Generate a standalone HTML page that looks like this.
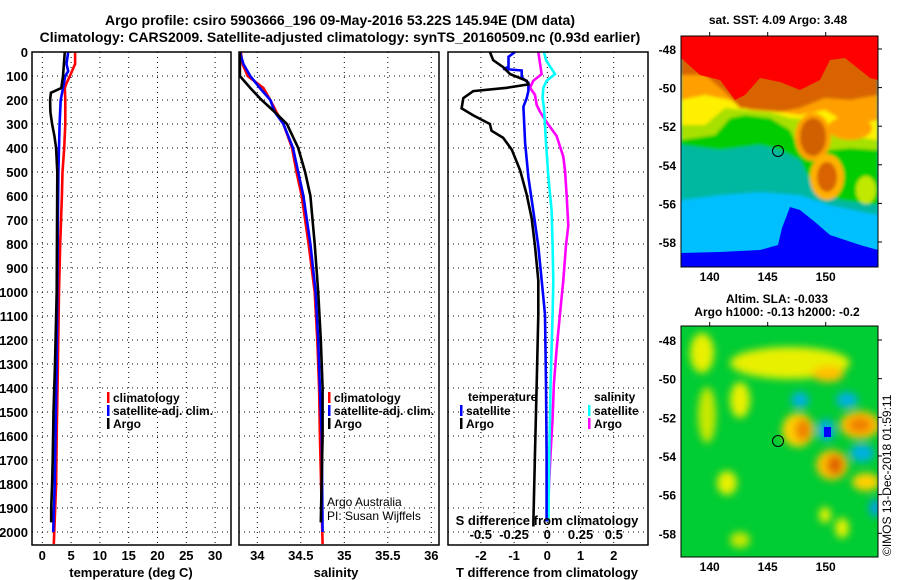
<!DOCTYPE html>
<html><head><meta charset="utf-8"><style>
html,body{margin:0;padding:0;background:#fff;}
svg{display:block;font-family:"Liberation Sans",sans-serif;}
text{font-weight:bold;font-size:13px;fill:#000;}
</style></head><body>
<svg id="c" width="900" height="580" viewBox="0 0 900 580" xmlns="http://www.w3.org/2000/svg">
<defs>
<filter id="bl" x="-30%" y="-30%" width="160%" height="160%"><feGaussianBlur stdDeviation="4"/></filter>
<filter id="bl2" x="-20%" y="-20%" width="140%" height="140%"><feGaussianBlur stdDeviation="1.5"/></filter>
<clipPath id="m1"><rect x="681" y="36" width="197" height="231"/></clipPath>
<clipPath id="m2"><rect x="681" y="326" width="197" height="231"/></clipPath>
</defs>
<text x="340" y="25" text-anchor="middle" style="font-size:14px">Argo profile: csiro 5903666_196 09-May-2016 53.22S 145.94E (DM data)</text>
<text x="340" y="42" text-anchor="middle" style="font-size:14px">Climatology: CARS2009. Satellite-adjusted climatology: synTS_20160509.nc (0.93d earlier)</text>

<g clip-path="url(#m1)">
<rect x="681" y="36" width="197" height="231" fill="#00BFFF"/>
<g filter="url(#bl2)">
<path d="M681,36H878V215L830,205L800,195L760,192L720,195L681,200Z" fill="#00B8A0"/>
<path d="M681,36H878V205L840,200L815,190L800,160L780,150L760,145L720,150L681,145Z" fill="#00CC00"/>
<path d="M681,36H878V150L850,148L830,150L800,150L790,130L770,118L745,115L730,118L715,135L681,140Z" fill="#A8E000"/>
<path d="M681,36H878V140L840,135L815,120L790,118L770,112L745,110L725,108L705,125L681,125Z" fill="#FFF000"/>
<path d="M681,36H878V120L850,125L825,110L800,115L780,112L750,110L730,100L705,95L681,100Z" fill="#FFA000"/>
<path d="M681,36H878V95L850,100L825,98L800,108L780,112L760,110L740,108L725,92L705,75L681,75Z" fill="#D86400"/>
<ellipse cx="813" cy="137" rx="18" ry="24" fill="#FFA000"/>
<ellipse cx="813" cy="137" rx="13" ry="19" fill="#D06000"/>
<ellipse cx="827" cy="177" rx="17" ry="23" fill="#FFB000"/>
<ellipse cx="827" cy="177" rx="10" ry="15" fill="#D86400"/>
<ellipse cx="850" cy="128" rx="22" ry="12" fill="#FFA000"/>
<ellipse cx="866" cy="190" rx="10" ry="14" fill="#C0E800"/>
</g>
<path d="M681,36H878V80L870,78L845,58L830,60L820,80L800,90L780,82L760,78L745,95L735,100L720,80L700,75L681,58Z" fill="#FF0000"/>
<path d="M681,267L681,253L720,252L760,250L778,245L782,228L790,207L800,210L815,222L830,235L860,245L878,250V267Z" fill="#0000FF"/>
<circle cx="778" cy="151" r="5.5" fill="none" stroke="#000" stroke-width="1"/>
</g>
<rect x="681" y="36" width="197" height="231" fill="none" stroke="#000"/>

<g clip-path="url(#m2)">
<rect x="681" y="326" width="197" height="231" fill="#00CC33"/>
<g filter="url(#bl)">
<ellipse cx="702" cy="353" rx="12" ry="20" fill="#E8F000"/>
<ellipse cx="790" cy="363" rx="60" ry="16" fill="#E8F000"/>
<ellipse cx="828" cy="374" rx="16" ry="8" fill="#FFC000"/>
<ellipse cx="740" cy="400" rx="10" ry="18" fill="#E8F000"/>
<ellipse cx="707" cy="415" rx="9" ry="28" fill="#C8E800"/>
<ellipse cx="800" cy="400" rx="9" ry="8" fill="#00B0E0"/>
<ellipse cx="847" cy="400" rx="11" ry="8" fill="#00B0E0"/>
<ellipse cx="798" cy="430" rx="16" ry="17" fill="#FFD000"/>
<ellipse cx="803" cy="430" rx="8" ry="11" fill="#F08000"/>
<ellipse cx="826" cy="430" rx="9" ry="11" fill="#00B0E0"/>
<ellipse cx="860" cy="425" rx="20" ry="14" fill="#FFC000"/>
<ellipse cx="860" cy="425" rx="12" ry="8" fill="#F08000"/>
<ellipse cx="832" cy="465" rx="16" ry="15" fill="#FFC000"/>
<ellipse cx="835" cy="465" rx="8" ry="10" fill="#E06000"/>
<ellipse cx="862" cy="453" rx="12" ry="9" fill="#00B0E0"/>
<ellipse cx="866" cy="482" rx="14" ry="9" fill="#FFD000"/>
<ellipse cx="727" cy="483" rx="10" ry="12" fill="#E8F000"/>
<ellipse cx="875" cy="508" rx="6" ry="9" fill="#00A0E0"/>
<ellipse cx="825" cy="515" rx="6" ry="8" fill="#E8F000"/>
<ellipse cx="842" cy="528" rx="7" ry="10" fill="#E8F000"/>
<ellipse cx="740" cy="540" rx="10" ry="8" fill="#C8E800"/>
</g>
<rect x="824" y="427" width="7" height="10" fill="#0000FF"/>
<circle cx="778" cy="441" r="5.5" fill="none" stroke="#000" stroke-width="1"/>
</g>
<rect x="681" y="326" width="197" height="231" fill="none" stroke="#000"/>

<text x="778" y="24" text-anchor="middle" style="font-size:12px">sat. SST: 4.09 Argo: 3.48</text>
<text x="777" y="303" text-anchor="middle" style="font-size:12px">Altim. SLA: -0.033</text>
<text x="777" y="316" text-anchor="middle" style="font-size:12px">Argo h1000: -0.13 h2000: -0.2</text>
<text transform="translate(891,556) rotate(-90)" style="font-size:12px;font-weight:normal">©IMOS 13-Dec-2018 01:59:11</text>
<g id="axes"></g>
</svg>
<script>
// ---- data ----
const tempDepthArgo = [0,100,150,170,200,250,300,350,400,500,1000,1300,1500,1700,1800,1900,1960];
const tempArgo = [3.9,3.6,3.3,1.5,1.35,1.4,1.7,2.1,2.4,2.6,2.5,2.2,1.95,1.8,1.7,1.55,1.55];
const tempDepthClim = [0,50,100,130,150,200,300,400,500,600,800,1000,1300,1600,1800,2050];
const tempClim = [5.7,5.7,4.8,4.2,3.9,4.0,4.0,3.8,3.5,3.4,3.1,2.9,2.7,2.5,2.4,2.0];
const tempDepthSat = [0,50,80,100,150,200,300,400,500,700,1000,1300,1600,1800,2000];
const tempSat = [4.5,4.2,4.5,4.0,3.6,3.2,3.0,2.9,2.8,2.7,2.6,2.5,2.3,2.15,1.9];

const salDepthArgo = [0,100,150,200,250,300,400,500,600,800,1000,1200,1400,1600,1960];
const salArgo = [33.80,33.80,33.92,34.05,34.20,34.34,34.47,34.55,34.61,34.66,34.70,34.73,34.75,34.75,34.73];
const salDepthClim = [0,50,100,150,200,250,300,400,500,600,800,1000,1200,1400,1600,2050];
const salClim = [33.81,33.83,33.89,34.07,34.15,34.22,34.30,34.40,34.45,34.51,34.59,34.66,34.69,34.71,34.72,34.75];
const salDepthSat = [0,50,100,150,200,250,300,400,500,600,800,1000,1200,1400,1600,2000];
const salSat = [33.80,33.84,33.92,34.03,34.15,34.20,34.30,34.41,34.47,34.53,34.61,34.67,34.70,34.72,34.74,34.75];

const dTDepthArgo = [0,34,63,92,120,135,149,163,192,235,264,300,328,357,407,493,594,694,809,952,1095,1382,1669,1956,1977];
const dTArgo = [-1.73,-1.63,-1.33,-1.12,-0.62,-0.57,-1.22,-2.23,-2.53,-2.58,-2.23,-1.73,-1.68,-1.33,-1.07,-0.82,-0.62,-0.47,-0.37,-0.27,-0.27,-0.32,-0.37,-0.42,-0.42];
const dTDepthSat = [0,20,63,70,77,106,128,163,192,228,378,522,665,809,952,1095,1382,1669,1956];
const dTSat = [-0.97,-1.17,-1.17,-1.33,-0.77,-0.77,-0.57,-0.57,-0.62,-0.72,-0.67,-0.57,-0.42,-0.27,-0.17,-0.07,-0.04,-0.02,-0.02];
const dSDepthArgo = [0,92,120,149,178,221,249,292,350,436,493,594,723,809,952,1095,1239,1382,1525,1669,1956];
const dSArgo = [-0.068,-0.043,-0.105,-0.13,-0.093,-0.08,-0.055,-0.005,0.07,0.12,0.133,0.145,0.158,0.14,0.12,0.095,0.07,0.05,0.04,0.025,0.0];
const dSDepthSat = [0,34,92,120,149,192,235,378,522,665,809,952,1095,1382,1669,1956];
const dSSat = [-0.025,-0.01,0.058,-0.005,-0.03,-0.035,-0.025,-0.01,0.008,0.033,0.04,0.045,0.04,0.025,0.015,0.008];

const depthTicks = [0,100,200,300,400,500,600,700,800,900,1000,1100,1200,1300,1400,1500,1600,1700,1800,1900,2000];
const tempTicks = [0,5,10,15,20,25,30];
const salTicks = [34,34.5,35,35.5,36];
const salTickLabels = ["34","34.5","35","35.5","36"];
const dTTicks = [-2,-1,0,1,2];
const dSTicks = [-0.5,-0.25,0,0.25,0.5];
const dSTickLabels = ["-0.5","-0.25","0","0.25","0.5"];
const latTicks = [-48,-50,-52,-54,-56,-58];
const lonTicks = [140,145,150];

// ---- scales ----
const yD = d => 52 + d*0.24;
const xT = t => 42.3 + t*5.76;
const xS = s => 257.3 + (s-34)*87;
const xdT = v => 547.3 + v*33.2;
const xdS = v => 547.3 + v*133;
const yLat1 = l => 49 + (-48 - l)*19.3;
const yLat2 = l => 340 + (-48 - l)*19.33;
const xLon = l => 709.7 + (l-140)*11.6;

const NS = "http://www.w3.org/2000/svg";
const root = document.getElementById('axes');
function mk(tag, attrs){const e=document.createElementNS(NS,tag);for(const k in attrs)e.setAttribute(k,attrs[k]);root.appendChild(e);return e;}
function txt(x,y,s,anchor,extra){const e=mk('text',{x:x,y:y,'text-anchor':anchor||'start'});if(extra)e.setAttribute('style',extra);e.textContent=s;return e;}

const panels=[{x0:32,x1:231},{x0:239,x1:439},{x0:448,x1:648}];
const yTop=52, yBot=545;
panels.forEach((p,i)=>{
  depthTicks.forEach(d=>{
    const g=mk('line',{x1:p.x0,x2:p.x1,y1:yD(d),y2:yD(d),stroke:'#000','stroke-width':1,'stroke-dasharray':'1,4'});
    
    
  });
});
tempTicks.forEach(t=>{const g=mk('line',{x1:xT(t),x2:xT(t),y1:yTop,y2:yBot,stroke:'#000','stroke-dasharray':'1,4'});


const l=txt(xT(t),560,String(t),'middle');

});
salTicks.forEach((s,i)=>{const g=mk('line',{x1:xS(s),x2:xS(s),y1:yTop,y2:yBot,stroke:'#000','stroke-dasharray':'1,4'});


const l=txt(xS(s),560,salTickLabels[i],'middle');

});
dTTicks.forEach(t=>{const g=mk('line',{x1:xdT(t),x2:xdT(t),y1:yTop,y2:yBot,stroke:'#000','stroke-dasharray':'1,4'});


const l=txt(xdT(t),560,String(t),'middle');

});
dSTicks.forEach((s,i)=>{const l=txt(xdS(s),539,dSTickLabels[i],'middle');

});
depthTicks.forEach(d=>{const l=txt(28,yD(d)+5,String(d),'end');

});

function line(xs,ds,xf,color,name){
  const pts=xs.map((v,i)=>xf(v).toFixed(1)+','+yD(ds[i]).toFixed(1)).join(' ');
  const e=mk('polyline',{points:pts,fill:'none',stroke:color,'stroke-width':2.6,'stroke-linejoin':'miter'});
  
  
}
line(tempClim,tempDepthClim,xT,'#FF0000','temp-climatology-line');
line(tempSat,tempDepthSat,xT,'#0000FF','temp-satellite-line');
line(tempArgo,tempDepthArgo,xT,'#000000','temp-argo-line');
line(salClim,salDepthClim,xS,'#FF0000','salinity-climatology-line');
line(salSat,salDepthSat,xS,'#0000FF','salinity-satellite-line');
line(salArgo,salDepthArgo,xS,'#000000','salinity-argo-line');
line(dSArgo,dSDepthArgo,xdS,'#FF00FF','sdiff-argo-line');
line(dSSat,dSDepthSat,xdS,'#00FFFF','sdiff-satellite-line');
line(dTSat,dTDepthSat,xdT,'#0000FF','tdiff-satellite-line');
line(dTArgo,dTDepthArgo,xdT,'#000000','tdiff-argo-line');

panels.forEach(p=>{const r=mk('rect',{x:p.x0,y:yTop,width:p.x1-p.x0,height:yBot-yTop,fill:'none',stroke:'#000','stroke-width':1.5});

});

let t;
t=txt(131,577,'temperature (deg C)','middle');


t=txt(336,577,'salinity','middle');


t=txt(547,577,'T difference from climatology','middle');


t=txt(547,525,'S difference from climatology','middle');



function leg(x,y,color,label,name){
  const b=mk('rect',{x:x,y:y-10,width:2.5,height:11,fill:color});
  
  
  const l=txt(x+6,y,label,'start','font-size:12px');
  
  
}
leg(107,402,'#FF0000','climatology','legend-temp-climatology');
leg(107,415,'#0000FF','satellite-adj. clim.','legend-temp-satellite');
leg(107,428,'#000000','Argo','legend-temp-argo');
leg(328,402,'#FF0000','climatology','legend-sal-climatology');
leg(328,415,'#0000FF','satellite-adj. clim.','legend-sal-satellite');
leg(328,428,'#000000','Argo','legend-sal-argo');
t=txt(468,401,'temperature','start','font-size:12px');


leg(460,415,'#0000FF','satellite','legend-tdiff-satellite');
leg(460,428,'#000000','Argo','legend-tdiff-argo');
t=txt(594,401,'salinity','start','font-size:12px');


leg(588,415,'#00FFFF','satellite','legend-sdiff-satellite');
leg(588,428,'#FF00FF','Argo','legend-sdiff-argo');
t=txt(327,506,'Argo Australia','start','font-size:12px;font-weight:normal');


t=txt(327,520,'PI: Susan Wijffels','start','font-size:12px;font-weight:normal');



latTicks.forEach(l=>{
  let e=txt(676,yLat1(l)+5,String(l),'end','font-size:12px');
  
  
  e=txt(676,yLat2(l)+5,String(l),'end','font-size:12px');
  
  
  mk('line',{x1:878,x2:882,y1:yLat1(l),y2:yLat1(l),stroke:'#000'});
  mk('line',{x1:878,x2:882,y1:yLat2(l),y2:yLat2(l),stroke:'#000'});
});
lonTicks.forEach(l=>{
  let e=txt(xLon(l),281,String(l),'middle','font-size:12px');
  
  
  e=txt(xLon(l),571,String(l),'middle','font-size:12px');
  
  
  mk('line',{x1:xLon(l),x2:xLon(l),y1:32,y2:36,stroke:'#000'});
  mk('line',{x1:xLon(l),x2:xLon(l),y1:322,y2:326,stroke:'#000'});
});
</script>
</body></html>
